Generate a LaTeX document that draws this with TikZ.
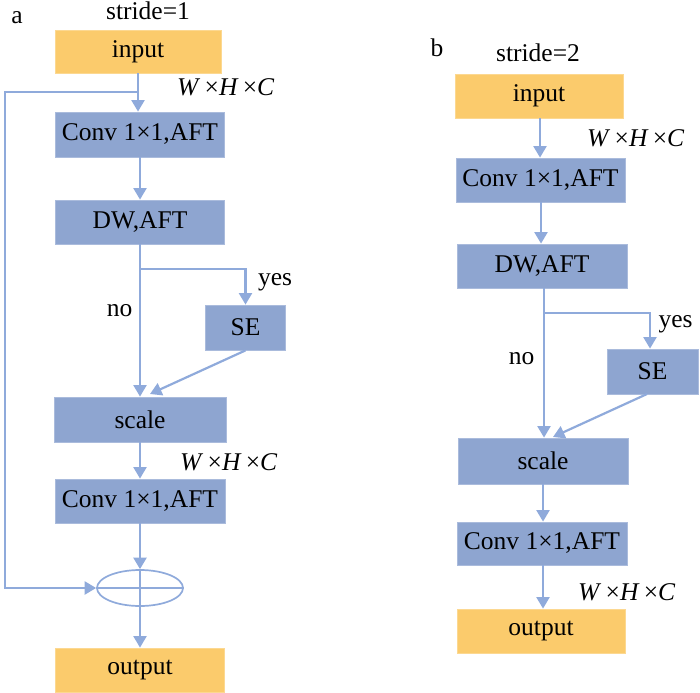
\documentclass[tikz,border=0pt]{standalone}
\usepackage{fontspec}
\setmainfont{Liberation Serif}
\usetikzlibrary{arrows.meta,shapes.geometric}
\definecolor{boxblue}{HTML}{8EA5D0}
\definecolor{lineblue}{HTML}{8FAADB}
\definecolor{boxyellow}{HTML}{FBCB6C}
\begin{document}
\begin{tikzpicture}[x=1pt,y=-1pt,
  blk/.style={fill=boxblue, draw=boxblue!75!white, line width=0.8pt, inner sep=0pt,
    font=\fontsize{25.5}{30}\selectfont},
  ylw/.style={blk, fill=boxyellow, draw=boxyellow!75!white},
  conn/.style={draw=lineblue, line width=2.2pt, -{Triangle[width=13pt,length=11.5pt]}},
  plain/.style={draw=lineblue, line width=2.2pt},
  lbl/.style={font=\fontsize{25.5}{30}\selectfont, inner sep=0pt, anchor=base},
  dims/.style={font=\fontsize{25.5}{30}\selectfont, inner sep=0pt, anchor=base west}]
\useasboundingbox (0,0) rectangle (700,692);

% ---------- panel a ----------
\node[lbl] (la) at (17,24) {a};
\node[lbl] (sa) at (148,20) {stride=1};
\node[ylw, minimum width=166pt, minimum height=43pt] (inA) at (138,51.5) {input};
\node[blk, minimum width=169pt, minimum height=45pt] (convA1) at (140,134.5) {Conv 1×1,AFT};
\node[blk, minimum width=169pt, minimum height=44pt] (dwA) at (140,222) {DW,AFT};
\node[blk, minimum width=80pt, minimum height=45pt] (seA) at (245.5,327.5) {SE};
\node[blk, minimum width=172pt, minimum height=45pt] (scA) at (140,419.5) {scale};
\node[blk, minimum width=170pt, minimum height=44pt] (convA2) at (140,501) {Conv 1×1,AFT};
\node[ellipse, draw=lineblue, line width=1.7pt, minimum width=86pt, minimum height=36pt, inner sep=0pt] (ell) at (140,588) {};
\node[ylw, minimum width=169pt, minimum height=44pt] (outA) at (140,670) {output};

\node[dims] (dA1) at (177,96) {\textit{W}\,×\textit{H}\,×\textit{C}};
\node[dims] (dA2) at (180,470) {\textit{W}\,×\textit{H}\,×\textit{C}};
\node[lbl] (yesA) at (275,285) {yes};
\node[lbl] (noA) at (119.5,316) {no};

\coordinate (skA) at (138,92);
\coordinate (skB) at (5,92);
\coordinate (skC) at (5,588);
\coordinate (brA) at (140,269);
\coordinate (brA2) at (245.5,269);
\coordinate (scAin) at (150,394);

\draw[conn] (inA.south) -- (inA.south |- convA1.north);
\draw[conn] (skA) -- (skB) -- (skC) -- (ell.west);
\draw[conn] (convA1.south) -- (dwA.north);
\draw[conn] (dwA.south) -- (scA.north);
\draw[conn] (brA) -- (brA2) -- (seA.north);
\draw[conn] (seA.south) -- (scAin);
\draw[conn] (scA.south) -- (convA2.north);
\draw[conn] (convA2.south) -- (ell.north);
\draw[plain, line width=1.7pt] (ell.west) -- (ell.east);
\draw[plain, line width=1.7pt] (ell.north) -- (ell.south);
\draw[conn] (ell.south) -- (outA.north);

% ---------- panel b ----------
\node[lbl] (lb) at (437,57) {b};
\node[lbl] (sb) at (538,62) {stride=2};
\node[ylw, minimum width=168pt, minimum height=44pt] (inB) at (539,96) {input};
\node[blk, minimum width=169pt, minimum height=44pt] (convB1) at (540.5,180) {Conv 1×1,AFT};
\node[blk, minimum width=170pt, minimum height=44pt] (dwB) at (542,266) {DW,AFT};
\node[blk, minimum width=91pt, minimum height=45pt] (seB) at (652.5,371.5) {SE};
\node[blk, minimum width=170pt, minimum height=46pt] (scB) at (543,461) {scale};
\node[blk, minimum width=170pt, minimum height=43pt] (convB2) at (542,543.5) {Conv 1×1,AFT};
\node[ylw, minimum width=168pt, minimum height=44pt] (outB) at (541,631) {output};

\node[dims] (dB1) at (587,147) {\textit{W}\,×\textit{H}\,×\textit{C}};
\node[dims] (dB2) at (578,600) {\textit{W}\,×\textit{H}\,×\textit{C}};
\node[lbl] (yesB) at (675.5,327) {yes};
\node[lbl] (noB) at (521.5,364) {no};

\coordinate (brB) at (544,313);
\coordinate (brB2) at (650,313);
\coordinate (scBin) at (553,437);
\coordinate (seBout) at (647,394);

\draw[conn] (inB.south -| 540,0) -- (convB1.north -| 540,0);
\draw[conn] (convB1.south -| 541,0) -- (dwB.north -| 541,0);
\draw[conn] (dwB.south -| 544,0) -- (scB.north -| 544,0);
\draw[conn] (brB) -- (brB2) -- (seB.north -| brB2);
\draw[conn] (seBout) -- (scBin);
\draw[conn] (scB.south -| 543,0) -- (convB2.north -| 543,0);
\draw[conn] (convB2.south -| 543,0) -- (outB.north -| 543,0);
\end{tikzpicture}
\end{document}
